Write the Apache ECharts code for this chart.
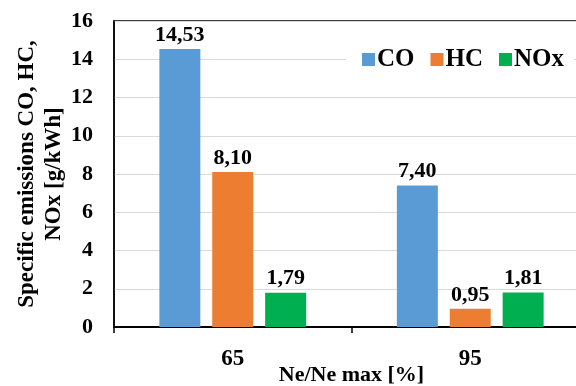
<!DOCTYPE html>
<html><head><meta charset="utf-8">
<script src="https://cdn.jsdelivr.net/npm/echarts@6/dist/echarts.min.js"></script>
<style>html,body{margin:0;padding:0;background:#fff}#c{width:576px;height:386px}</style>
</head><body><div id="c"></div>
<script>
const categories = ['65', '95'];
const seriesNames = ['CO', 'HC', 'NOx'];
const coValues = [14.53, 7.40];
const hcValues = [8.10, 0.95];
const noxValues = [1.79, 1.81];
const yTicks = [0, 2, 4, 6, 8, 10, 12, 14, 16];
const colors = ['#5B9BD5', '#ED7D31', '#00B050'];
const font = '"Liberation Serif","Times New Roman",serif';
const chart = echarts.init(document.getElementById('c'));
const mk = (name, data, i) => ({
  name, type: 'bar', data, barWidth: 41, barGap: '29%',
  itemStyle: { color: colors[i] },
  label: { show: true, position: 'top', distance: 3, fontFamily: font, fontWeight: 'bold', fontSize: 22, color: '#000',
    formatter: p => p.value.toFixed(2).replace('.', ',') }
});
chart.setOption({
  animation: false,
  textStyle: { fontFamily: font },
  grid: { left: 114, top: 21, width: 475, height: 306, outerBoundsMode: 'none', containLabel: false,
    show: true, borderColor: '#000', borderWidth: 1.5, backgroundColor: 'transparent' },
  legend: {
    data: seriesNames, left: 346, top: 41, itemWidth: 13, itemHeight: 13, itemGap: 16,
    backgroundColor: '#fff', padding: [6, 10, 6, 16],
    icon: 'rect',
    textStyle: { fontFamily: font, fontWeight: 'bold', fontSize: 25, color: '#000', padding: [0, 0, 0, -3] }
  },
  xAxis: {
    type: 'category', data: categories,
    axisLine: { lineStyle: { color: '#000', width: 2 } },
    axisTick: { show: true, length: 6, lineStyle: { color: '#000', width: 1.5 } },
    axisLabel: { fontFamily: font, fontWeight: 'bold', fontSize: 23, color: '#000', margin: 21 },
    name: 'Ne/Ne max [%]', nameLocation: 'middle', nameGap: 37, nameMoveOverlap: false,
    nameTextStyle: { fontFamily: font, fontWeight: 'bold', fontSize: 22, color: '#000' }
  },
  yAxis: {
    type: 'value', min: yTicks[0], max: yTicks[yTicks.length - 1], interval: 2,
    axisLine: { show: true, lineStyle: { color: '#000', width: 1.5 } },
    axisTick: { show: false },
    splitLine: { lineStyle: { color: '#d9d9d9', width: 1 } },
    axisLabel: { fontFamily: font, fontWeight: 'bold', fontSize: 22, color: '#000', margin: 21 },
    name: 'Specific emissions CO, HC,\nNOx [g/kWh]', nameLocation: 'middle', nameGap: 46, nameRotate: 90, nameMoveOverlap: false,
    nameTextStyle: { fontFamily: font, fontWeight: 'bold', fontSize: 23, color: '#000', lineHeight: 27 }
  },
  series: [mk('CO', coValues, 0), mk('HC', hcValues, 1), mk('NOx', noxValues, 2)]
});
</script></body></html>
